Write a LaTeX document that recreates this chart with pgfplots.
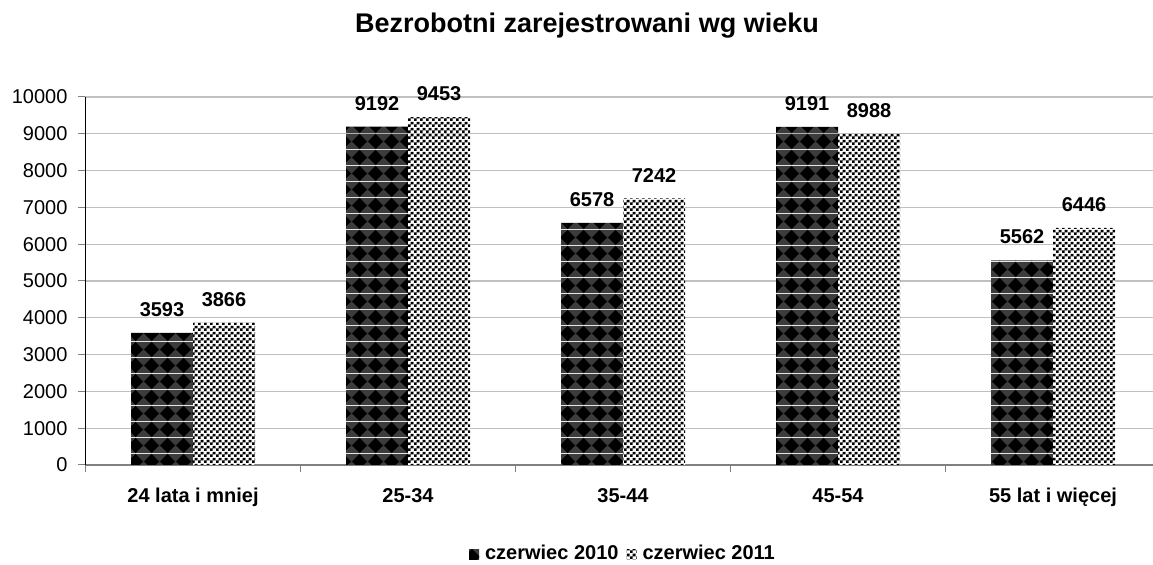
\documentclass[border=0pt]{standalone}
\usepackage{fontspec}
\setmainfont{Liberation Sans}
\usepackage{pgfplots}
\pgfplotsset{compat=1.18}
\usetikzlibrary{patterns}
\definecolor{darkfill}{RGB}{60,60,60}
\definecolor{gridc}{RGB}{192,192,192}
\definecolor{axc}{RGB}{128,128,128}
\pgfdeclarepatterninherentlycolored{diam}{\pgfpointorigin}{\pgfpoint{8pt}{8pt}}{\pgfpoint{8pt}{8pt}}{%
  \pgfsetfillcolor{darkfill}%
  \pgfpathrectangle{\pgfpointorigin}{\pgfpoint{8pt}{8pt}}\pgfusepath{fill}%
  \pgfsetfillcolor{black}%
  \pgfpathmoveto{\pgfpoint{4pt}{0pt}}\pgfpathlineto{\pgfpoint{8pt}{4pt}}%
  \pgfpathlineto{\pgfpoint{4pt}{8pt}}\pgfpathlineto{\pgfpoint{0pt}{4pt}}\pgfpathclose
  \pgfusepath{fill}}
\pgfdeclarepatterninherentlycolored{checks}{\pgfpointorigin}{\pgfpoint{3pt}{3pt}}{\pgfpoint{3pt}{3pt}}{%
  \pgfsetfillcolor{white}%
  \pgfpathrectangle{\pgfpointorigin}{\pgfpoint{3pt}{3pt}}\pgfusepath{fill}%
  \pgfsetfillcolor{black}%
  \pgfpathrectangle{\pgfpointorigin}{\pgfpoint{1.5pt}{1.5pt}}%
  \pgfpathrectangle{\pgfpoint{1.5pt}{1.5pt}}{\pgfpoint{1.5pt}{1.5pt}}\pgfusepath{fill}}
\begin{document}
\begin{tikzpicture}
\begin{axis}[
  scale only axis,
  width=533.75pt, height=184pt,
  xmin=-0.5, xmax=4.465,
  ymin=0, ymax=10000,
  ybar=0pt, bar width=31pt,
  axis x line=bottom, axis y line=left,
  x axis line style={axc, line width=0.8pt, -},
  y axis line style={black, line width=0.5pt, -},
  xtick={0,1,2,3,4},
  xticklabels={24 lata i mniej,25-34,35-44,45-54,55 lat i więcej},
  minor xtick={-0.5,0.5,1.5,2.5,3.5},
  ytick={0,1000,...,10000},
  scaled y ticks=false,
  tick align=outside,
  major tick length=3.5pt, minor tick length=3.5pt,
  major x tick style={draw=none},
  minor x tick style={axc, line width=0.8pt},
  major y tick style={axc, line width=0.5pt},
  ymajorgrids,
  major grid style={gridc, line width=0.6pt},
  /pgf/number format/assume math mode=true,
  /pgf/number format/1000 sep={},
  yticklabel style={font=\fontsize{10}{12}\selectfont, xshift=-2pt},
  xticklabel style={font=\fontsize{10}{12}\selectfont\bfseries, text height=7.3pt, text depth=2pt, yshift=-4.5pt},
  nodes near coords,
  every node near coord/.append style={font=\fontsize{10}{12}\selectfont\bfseries, inner sep=0pt, anchor=south, yshift=8pt},
  legend columns=2,
  legend style={at={(axis description cs:0.5035,-0.242)}, anchor=center, draw=none,
    font=\fontsize{10}{12}\selectfont\bfseries, nodes={inner sep=1pt},
    /tikz/every odd column/.append style={column sep=2pt},
    /tikz/every even column/.append style={column sep=3pt}},
  legend image code/.code={\fill[#1] (0pt,-2.5pt) rectangle (5pt,2.5pt);},
]
\addplot[draw=none, pattern=diam] coordinates {(0,3593) (1,9192) (2,6578) (3,9191) (4,5562)};
\addplot[draw=none, pattern=checks] coordinates {(0,3866) (1,9453) (2,7242) (3,8988) (4,6446)};
\legend{czerwiec 2010, czerwiec 2011}
\end{axis}
\node[anchor=base, font=\fontsize{13.5}{16}\selectfont\bfseries] at (250.75pt,216pt) {Bezrobotni zarejestrowani wg wieku};
\pgfresetboundingbox
\useasboundingbox (-42.75pt,-50pt) rectangle (533.75pt,232.5pt);
\end{tikzpicture}
\end{document}
